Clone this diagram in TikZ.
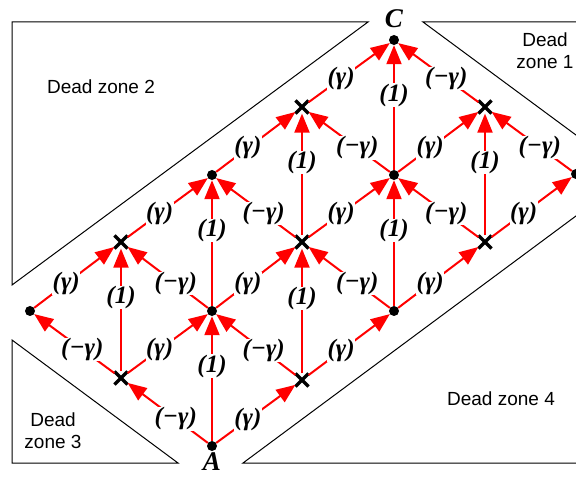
\documentclass[tikz,border=0pt]{standalone}
\usepackage{fontspec}
\setmainfont{Liberation Serif}
\setsansfont{Liberation Sans}
\usetikzlibrary{positioning, arrows.meta, shapes.misc}

\tikzset{
  dot/.style={circle, fill=black, inner sep=0pt, minimum size=10pt},
  crossmark/.style={cross out, draw=black, line width=3.2pt, inner sep=0pt, minimum size=10pt},
  link/.style={red, line width=2pt, -{Triangle[length=19pt, width=15pt]}},
  wt/.style={fill=white, inner sep=0.3pt, text=black, font=\fontsize{25}{27}\selectfont\bfseries\itshape},
  zone/.style={draw=black, line width=1pt},
  zonetext/.style={font=\fontsize{19}{22}\selectfont\sffamily, align=center},
  corner/.style={font=\fontsize{27}{30}\selectfont\bfseries\itshape, inner sep=0pt}
}

\begin{document}
\begin{tikzpicture}[x=1pt, y=-1pt]
\useasboundingbox (0,0) rectangle (576,478);
% dead zones
\draw[zone] (368,22) -- (12,22) -- (12,285) -- cycle;
\draw[zone] (580,22) -- (423,22) -- (580,138);
\draw[zone] (12,340) -- (178,463) -- (12,463) -- cycle;
\draw[zone] (580,213) -- (243,463) -- (580,463);
\node[zonetext] (dz2) at (101,87) {Dead zone 2};
\node[zonetext] (dz1) at (545,51) {Dead\\zone 1};
\node[zonetext] (dz3) at (53,431) {Dead\\zone 3};
\node[zonetext] (dz4) at (501,399) {Dead zone 4};
% lattice points
\node[dot] (n00) at (212,446) {};
\node[crossmark] (n10) at (302,380) {};
\node[dot] (n20) at (394,311) {};
\node[crossmark] (n30) at (485,242) {};
\node[dot] (n40) at (576,174) {};
\node[crossmark] (n01) at (121,378) {};
\node[dot] (n11) at (212,311) {};
\node[crossmark] (n21) at (302,242) {};
\node[dot] (n31) at (394,175) {};
\node[crossmark] (n41) at (485,107) {};
\node[dot] (n02) at (30,311) {};
\node[crossmark] (n12) at (121,242) {};
\node[dot] (n22) at (212,175) {};
\node[crossmark] (n32) at (302,107) {};
\node[dot] (n42) at (394,40) {};
\node[corner, above=7pt of n42] (lC) {C};
\node[corner, below=1pt of n00] (lA) {A};
% gamma edges
\foreach \s/\t in {n00/n10, n10/n20, n20/n30, n30/n40, n01/n11, n11/n21,
                   n21/n31, n31/n41, n02/n12, n12/n22, n22/n32, n32/n42}
  \draw[link] (\s) -- node[wt, pos=0.4] {(γ)} (\t);
% minus gamma edges
\foreach \s/\t in {n00/n01, n01/n02, n10/n11, n11/n12, n20/n21,
                   n21/n22, n30/n31, n31/n32, n40/n41, n41/n42}
  \draw[link] (\s) -- node[wt, pos=0.4] {(−γ)} (\t);
% unit edges
\foreach \s/\t in {n00/n11, n11/n22, n01/n12, n10/n21, n21/n32, n20/n31, n31/n42, n30/n41}
  \draw[link] (\s) -- node[wt, pos=0.6] {(1)} (\t);
\end{tikzpicture}
\end{document}
